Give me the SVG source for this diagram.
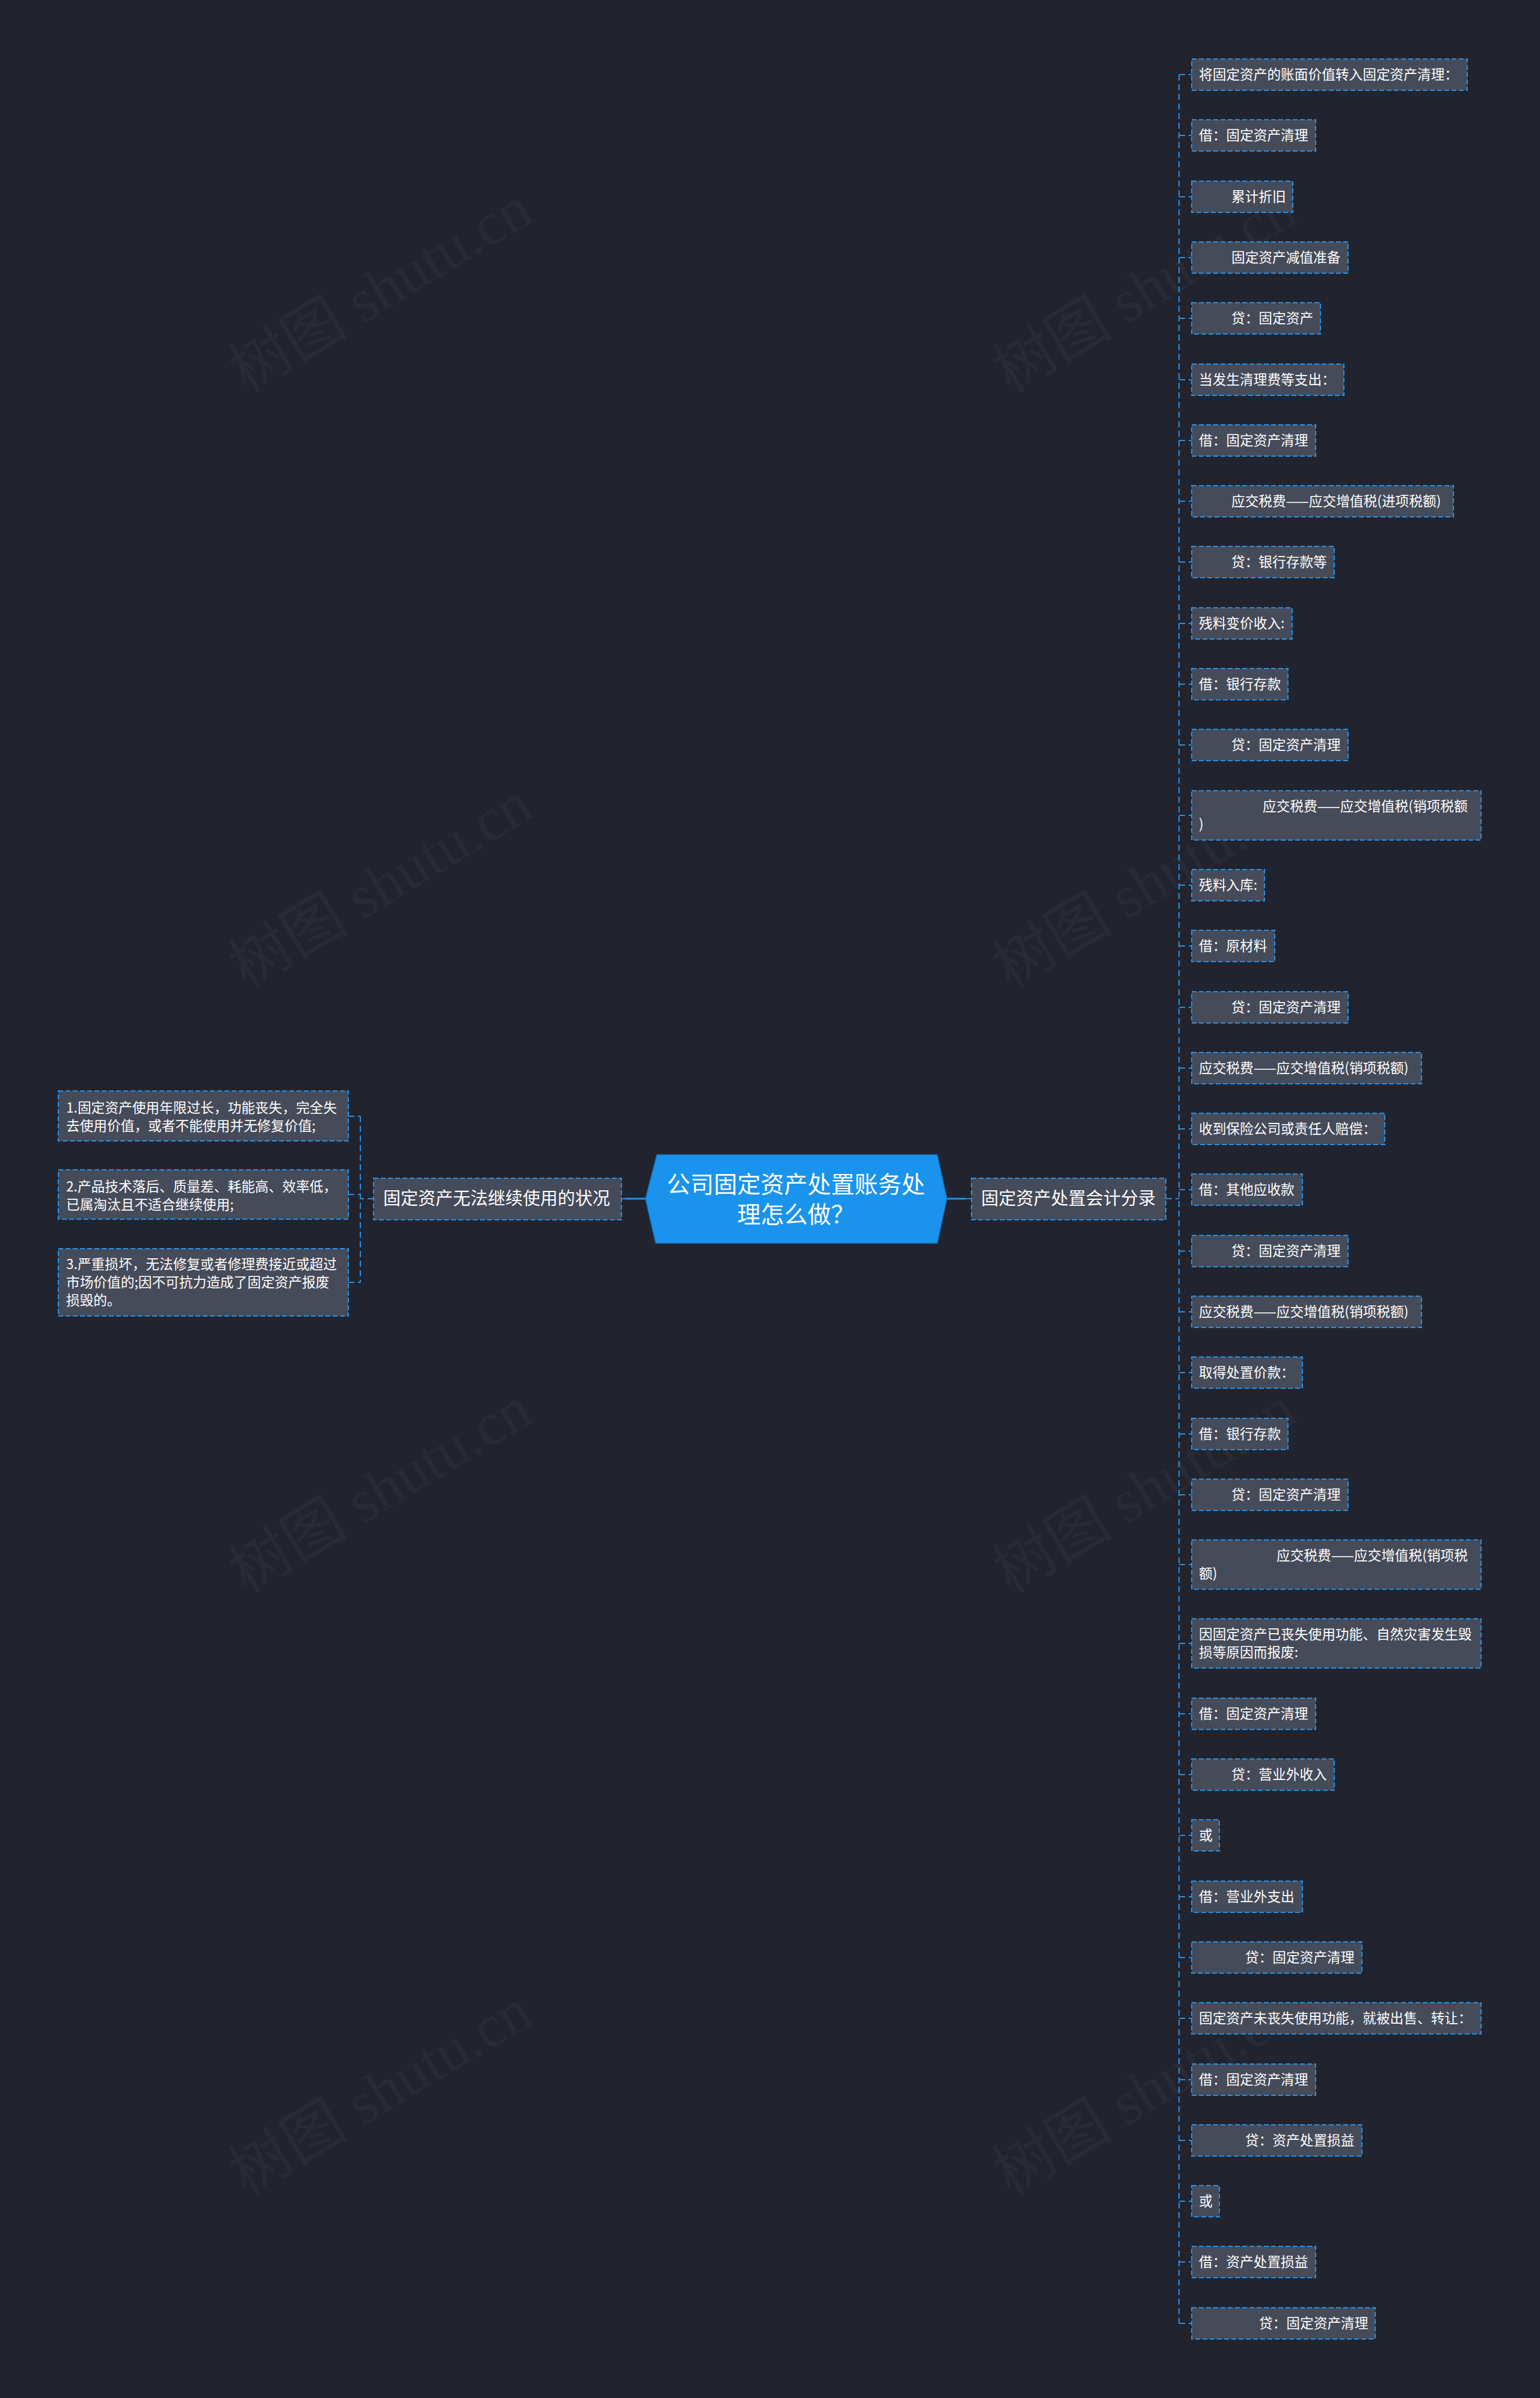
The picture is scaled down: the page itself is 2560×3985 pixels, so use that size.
<svg xmlns="http://www.w3.org/2000/svg" width="2560" height="3985" viewBox="0 0 2560 3985">
<style>
.bg{fill:#21242f}
.wm{fill:#ffffff;fill-opacity:0.035;font-family:"Liberation Serif","Noto Sans CJK SC",serif;font-size:100px}
.box{fill:#464b59;stroke:#2590e6;stroke-width:2;stroke-dasharray:8 4}
.t{fill:#ffffff;font-family:"Noto Sans CJK SC","Noto Sans",sans-serif;font-size:22.7px}
.tb{fill:#ffffff;font-family:"Noto Sans CJK SC","Noto Sans",sans-serif;font-size:29px}
.tr{fill:#ffffff;font-family:"Noto Sans CJK SC","Noto Sans",sans-serif;font-size:39px;text-anchor:middle}
.root{fill:#1a93ec;stroke:#1574c4;stroke-width:1.5}
.dl{fill:none;stroke:#2590e6;stroke-width:2;stroke-dasharray:10 6}
.sl{fill:none;stroke:#1a93ec;stroke-width:3}
</style>
<rect class="bg" x="0" y="0" width="2560" height="3985"/>
<g id="watermarks">
<text class="wm" transform="translate(650,510) rotate(-31)" text-anchor="middle">树图 shutu.cn</text>
<text class="wm" transform="translate(650,1500) rotate(-31)" text-anchor="middle">树图 shutu.cn</text>
<text class="wm" transform="translate(650,2505) rotate(-31)" text-anchor="middle">树图 shutu.cn</text>
<text class="wm" transform="translate(650,3505) rotate(-31)" text-anchor="middle">树图 shutu.cn</text>
<text class="wm" transform="translate(1920,510) rotate(-31)" text-anchor="middle">树图 shutu.cn</text>
<text class="wm" transform="translate(1920,1500) rotate(-31)" text-anchor="middle">树图 shutu.cn</text>
<text class="wm" transform="translate(1920,2505) rotate(-31)" text-anchor="middle">树图 shutu.cn</text>
<text class="wm" transform="translate(1920,3505) rotate(-31)" text-anchor="middle">树图 shutu.cn</text>
</g>
<g id="connectors">
<line class="sl" x1="1060" y1="1992" x2="1074" y2="1992"/>
<line class="sl" x1="1040" y1="1992" x2="1060" y2="1992"/>
<line class="dl" x1="1033" y1="1992" x2="1042" y2="1992"/>
<line class="sl" x1="1573" y1="1992" x2="1604" y2="1992"/>
<line class="dl" x1="1604" y1="1992" x2="1615" y2="1992"/>
<path class="dl" d="M621,1992 H599 M599,1855 V2131 M579,1855 H599 M579,1985 H599 M579,2131 H599"/>
<path class="dl" d="M1938,1992 H1960 M1960,124 V3861"/>
<path class="dl" d="M1960,124 H1981 M1960,225 H1981 M1960,327 H1981 M1960,428 H1981 M1960,529 H1981 M1960,631 H1981 M1960,732 H1981 M1960,833 H1981 M1960,934 H1981 M1960,1036 H1981 M1960,1137 H1981 M1960,1238 H1981 M1960,1355 H1981 M1960,1471 H1981 M1960,1572 H1981 M1960,1674 H1981 M1960,1775 H1981 M1960,1876 H1981 M1960,1977 H1981 M1960,2079 H1981 M1960,2180 H1981 M1960,2281 H1981 M1960,2383 H1981 M1960,2484 H1981 M1960,2600 H1981 M1960,2731 H1981 M1960,2848 H1981 M1960,2949 H1981 M1960,3050 H1981 M1960,3152 H1981 M1960,3253 H1981 M1960,3354 H1981 M1960,3456 H1981 M1960,3557 H1981 M1960,3658 H1981 M1960,3759 H1981 M1960,3861 H1981"/>
</g>
<g id="root">
<polygon class="root" points="1092,1919 1558,1919 1574,1992 1558,2066 1090,2066 1073,1992"/>
<text class="tr" x="1323" y="1982">公司固定资产处置账务处</text>
<text class="tr" x="1323" y="2032">理怎么做？</text>
</g>
<g id="branch-left">
<rect class="box" x="621" y="1958" width="412" height="69"/>
<text class="tb" x="637" y="2002">固定资产无法继续使用的状况</text>
</g>
<g id="branch-right">
<rect class="box" x="1615" y="1958" width="323" height="69"/>
<text class="tb" x="1631" y="2002">固定资产处置会计分录</text>
</g>
<g id="left-1">
<rect class="box" x="97" y="1813" width="482" height="83"/>
<text class="t" x="110" y="1849">1.固定资产使用年限过长，功能丧失，完全失</text>
<text class="t" x="110" y="1879">去使用价值，或者不能使用并无修复价值;</text>
</g>
<g id="left-2">
<rect class="box" x="97" y="1944" width="482" height="82"/>
<text class="t" x="110" y="1980">2.产品技术落后、质量差、耗能高、效率低，</text>
<text class="t" x="110" y="2010">已属淘汰且不适合继续使用;</text>
</g>
<g id="left-3">
<rect class="box" x="97" y="2075" width="482" height="112"/>
<text class="t" x="110" y="2109">3.严重损坏，无法修复或者修理费接近或超过</text>
<text class="t" x="110" y="2139">市场价值的;因不可抗力造成了固定资产报废</text>
<text class="t" x="110" y="2169">损毁的。</text>
</g>
<g id="n1"><rect class="box" x="1981" y="98" width="458" height="52"/><text class="t" x="1993" y="132">将固定资产的账面价值转入固定资产清理：</text></g>
<g id="n2"><rect class="box" x="1981" y="199" width="206" height="52"/><text class="t" x="1993" y="233">借：固定资产清理</text></g>
<g id="n3"><rect class="box" x="1981" y="301" width="168" height="52"/><text class="t" x="2047" y="335">累计折旧</text></g>
<g id="n4"><rect class="box" x="1981" y="402" width="260" height="52"/><text class="t" x="2047" y="436">固定资产减值准备</text></g>
<g id="n5"><rect class="box" x="1981" y="503" width="214" height="52"/><text class="t" x="2047" y="537">贷：固定资产</text></g>
<g id="n6"><rect class="box" x="1981" y="605" width="253" height="52"/><text class="t" x="1993" y="639">当发生清理费等支出：</text></g>
<g id="n7"><rect class="box" x="1981" y="706" width="206" height="52"/><text class="t" x="1993" y="740">借：固定资产清理</text></g>
<g id="n8"><rect class="box" x="1981" y="807" width="435" height="52"/><text class="t" x="2047" y="841">应交税费——应交增值税(进项税额)</text></g>
<g id="n9"><rect class="box" x="1981" y="908" width="237" height="52"/><text class="t" x="2047" y="942">贷：银行存款等</text></g>
<g id="n10"><rect class="box" x="1981" y="1010" width="167" height="52"/><text class="t" x="1993" y="1044">残料变价收入:</text></g>
<g id="n11"><rect class="box" x="1981" y="1111" width="160" height="52"/><text class="t" x="1993" y="1145">借：银行存款</text></g>
<g id="n12"><rect class="box" x="1981" y="1212" width="260" height="52"/><text class="t" x="2047" y="1246">贷：固定资产清理</text></g>
<g id="n13"><rect class="box" x="1981" y="1314" width="481" height="82"/><text class="t" x="2099" y="1348">应交税费——应交增值税(销项税额</text><text class="t" x="1993" y="1378">)</text></g>
<g id="n14"><rect class="box" x="1981" y="1445" width="121" height="52"/><text class="t" x="1993" y="1479">残料入库:</text></g>
<g id="n15"><rect class="box" x="1981" y="1546" width="138" height="52"/><text class="t" x="1993" y="1580">借：原材料</text></g>
<g id="n16"><rect class="box" x="1981" y="1648" width="260" height="52"/><text class="t" x="2047" y="1682">贷：固定资产清理</text></g>
<g id="n17"><rect class="box" x="1981" y="1749" width="382" height="52"/><text class="t" x="1993" y="1783">应交税费——应交增值税(销项税额)</text></g>
<g id="n18"><rect class="box" x="1981" y="1850" width="321" height="52"/><text class="t" x="1993" y="1884">收到保险公司或责任人赔偿：</text></g>
<g id="n19"><rect class="box" x="1981" y="1951" width="184" height="52"/><text class="t" x="1993" y="1985">借：其他应收款</text></g>
<g id="n20"><rect class="box" x="1981" y="2053" width="260" height="52"/><text class="t" x="2047" y="2087">贷：固定资产清理</text></g>
<g id="n21"><rect class="box" x="1981" y="2154" width="382" height="52"/><text class="t" x="1993" y="2188">应交税费——应交增值税(销项税额)</text></g>
<g id="n22"><rect class="box" x="1981" y="2255" width="184" height="52"/><text class="t" x="1993" y="2289">取得处置价款：</text></g>
<g id="n23"><rect class="box" x="1981" y="2357" width="160" height="52"/><text class="t" x="1993" y="2391">借：银行存款</text></g>
<g id="n24"><rect class="box" x="1981" y="2458" width="260" height="52"/><text class="t" x="2047" y="2492">贷：固定资产清理</text></g>
<g id="n25"><rect class="box" x="1981" y="2559" width="481" height="82"/><text class="t" x="2122" y="2593">应交税费——应交增值税(销项税</text><text class="t" x="1993" y="2623">额)</text></g>
<g id="n26"><rect class="box" x="1981" y="2690" width="481" height="82"/><text class="t" x="1993" y="2724">因固定资产已丧失使用功能、自然灾害发生毁</text><text class="t" x="1993" y="2754">损等原因而报废:</text></g>
<g id="n27"><rect class="box" x="1981" y="2822" width="206" height="52"/><text class="t" x="1993" y="2856">借：固定资产清理</text></g>
<g id="n28"><rect class="box" x="1981" y="2923" width="237" height="52"/><text class="t" x="2047" y="2957">贷：营业外收入</text></g>
<g id="n29"><rect class="box" x="1981" y="3024" width="46" height="52"/><text class="t" x="1993" y="3058">或</text></g>
<g id="n30"><rect class="box" x="1981" y="3126" width="184" height="52"/><text class="t" x="1993" y="3160">借：营业外支出</text></g>
<g id="n31"><rect class="box" x="1981" y="3227" width="283" height="52"/><text class="t" x="2070" y="3261">贷：固定资产清理</text></g>
<g id="n32"><rect class="box" x="1981" y="3328" width="481" height="52"/><text class="t" x="1993" y="3362">固定资产未丧失使用功能，就被出售、转让：</text></g>
<g id="n33"><rect class="box" x="1981" y="3430" width="206" height="52"/><text class="t" x="1993" y="3464">借：固定资产清理</text></g>
<g id="n34"><rect class="box" x="1981" y="3531" width="283" height="52"/><text class="t" x="2070" y="3565">贷：资产处置损益</text></g>
<g id="n35"><rect class="box" x="1981" y="3632" width="46" height="52"/><text class="t" x="1993" y="3666">或</text></g>
<g id="n36"><rect class="box" x="1981" y="3733" width="206" height="52"/><text class="t" x="1993" y="3767">借：资产处置损益</text></g>
<g id="n37"><rect class="box" x="1981" y="3835" width="305" height="52"/><text class="t" x="2093" y="3869">贷：固定资产清理</text></g>
</svg>
